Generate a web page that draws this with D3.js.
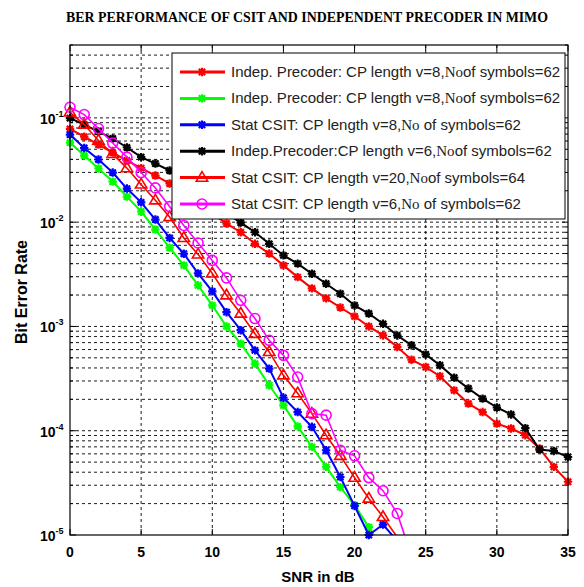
<!DOCTYPE html>
<meta charset="utf-8">
<script src="https://d3js.org/d3.v7.min.js"></script>
<style>
body { margin: 0; background: #fff; }
</style>
<div id="chart"></div>
<script>

// ---- data ----
var snr = [0,1,2,3,4,5,6,7,8,9,10,11,12,13,14,15,16,17,18,19,20,21,22,23,24,25,26,27,28,29,30,31,32,33,34,35];

// Indep. Precoder, v=8 (red, stars)
var berIndepV8 = [0.0785,0.066,0.0555,0.0465,0.039,0.033,0.028,0.0235,0.0188,0.0151,0.0121,0.0097,0.0080,0.0062,0.0050,0.00385,0.00297,0.00232,0.00186,0.00152,0.00125,0.00100,8.2e-4,6.35e-4,4.8e-4,4.08e-4,3.33e-4,2.44e-4,1.82e-4,1.51e-4,1.17e-4,1.05e-4,9.06e-5,6.76e-5,4.5e-5,3.24e-5];
// Indep. Precoder, v=8 (green, stars)
var berIndepV8g = [0.058,0.0435,0.0327,0.0245,0.0176,0.01265,0.0085,0.0057,0.00385,0.00248,0.00159,0.0010,6.84e-4,4.4e-4,2.73e-4,1.75e-4,1.1e-4,7.0e-5,4.5e-5,2.88e-5,1.93e-5,1.19e-5,7.2e-6];
// Stat CSIT, v=8 (blue, stars)
var berStatV8 = [0.0692,0.0514,0.0399,0.0299,0.021,0.0155,0.0106,0.00706,0.00498,0.00323,0.00217,0.00137,9.2e-4,5.9e-4,3.94e-4,2.07e-4,1.51e-4,1.09e-4,6.5e-5,3.6e-5,1.9e-5,1.0e-5,1.26e-5,8.75e-6];
// Indep. Precoder, v=6 (black, stars)
var berIndepV6 = [0.0995,0.0863,0.074,0.0634,0.052,0.042,0.0365,0.0313,0.0262,0.0201,0.0162,0.0121,0.0099,0.0080,0.0062,0.0048,0.0040,0.0032,0.00257,0.00206,0.00159,0.00133,0.00106,8.2e-4,6.6e-4,5.4e-4,4.24e-4,3.23e-4,2.54e-4,2.03e-4,1.67e-4,1.43e-4,1.06e-4,6.6e-5,6.4e-5,5.6e-5];
// Stat CSIT, v=20 (red, triangles)
var berStatV20 = [0.113,0.0863,0.0607,0.0452,0.033,0.023,0.0162,0.0112,0.00706,0.00491,0.00323,0.00199,0.00133,8.5e-4,5.7e-4,3.4e-4,2.29e-4,1.46e-4,9.06e-5,5.75e-5,3.55e-5,2.24e-5,1.49e-5,9.55e-6];
// Stat CSIT, v=6 (magenta, circles)
var berStatV6 = [0.1265,0.1076,0.079,0.0574,0.042,0.0299,0.0213,0.0141,0.0093,0.00632,0.0043,0.00292,0.00178,0.00119,7.36e-4,5.28e-4,3.27e-4,1.46e-4,1.41e-4,6.5e-5,5.75e-5,3.55e-5,2.66e-5,1.61e-5,6.3e-6];

var seriesValues = [berIndepV8, berIndepV8g, berStatV8, berIndepV6, berStatV20, berStatV6];
var seriesColors = ["#ff0000", "#00ff00", "#0000ff", "#000000", "#ff0000", "#ff00ff"];
var seriesMarkers = ["star", "star", "star", "star", "triangle", "circle"];
// legend text: [before "No", "No" part, after]
var legendLabels = [
  ["Indep. Precoder: CP length v=8,", "No", "of symbols=62"],
  ["Indep. Precoder: CP length v=8,", "No", "of symbols=62"],
  ["Stat CSIT: CP length v=8,", "No", " of symbols=62"],
  ["Indep.Precoder:CP length v=6,", "No", "of symbols=62"],
  ["Stat CSIT: CP length v=20,", "No", "of symbols=64"],
  ["Stat CSIT: CP length v=6,", "No", " of symbols=62"]
];
var xTicks = [0, 5, 10, 15, 20, 25, 30, 35];
var yDecades = [1e-5, 1e-4, 1e-3, 1e-2, 1e-1];
var yExponents = ["-5", "-4", "-3", "-2", "-1"];

var width = 584, height = 587;
var pLeft = 70, pRight = 568, pTop = 45, pBottom = 535;

var svg = d3.select("#chart").append("svg")
  .attr("width", width)
  .attr("height", height)
  .style("font-family", "Liberation Sans, Arial, sans-serif");

var x = d3.scaleLinear().domain([0, 35]).range([pLeft, pRight]);
var y = d3.scaleLog().domain([1e-5, 0.5]).range([pBottom, pTop]);

// title
svg.append("text")
  .attr("x", 307).attr("y", 22)
  .attr("text-anchor", "middle")
  .attr("textLength", 482).attr("lengthAdjust", "spacingAndGlyphs")
  .style("font-family", "Liberation Serif, Times New Roman, serif")
  .style("font-weight", "bold")
  .style("font-size", "14px")
  .text("BER PERFORMANCE OF CSIT AND INDEPENDENT PRECODER IN MIMO");

// grid
var grid = svg.append("g")
  .attr("stroke", "#000")
  .attr("stroke-width", 0.9)
  .attr("stroke-dasharray", "3,3");

grid.selectAll(".gx")
  .data(xTicks.filter(function(d){ return d > 0 && d < 35; }))
  .enter().append("line")
  .attr("x1", function(d){ return x(d); })
  .attr("x2", function(d){ return x(d); })
  .attr("y1", pTop).attr("y2", pBottom);

var yMinor = y.ticks().filter(function(d){ return d > 1.01e-5 && d < 0.49; });
grid.selectAll(".gy")
  .data(yMinor)
  .enter().append("line")
  .attr("x1", pLeft).attr("x2", pRight)
  .attr("y1", function(d){ return y(d); })
  .attr("y2", function(d){ return y(d); });

// ticks (inside, both sides)
var ticks = svg.append("g").attr("stroke", "#000").attr("stroke-width", 1);
y.ticks().forEach(function(d){
  var isMajor = yDecades.indexOf(d) >= 0;
  var len = isMajor ? 6 : 3;
  ticks.append("line").attr("x1", pLeft).attr("x2", pLeft + len).attr("y1", y(d)).attr("y2", y(d));
  ticks.append("line").attr("x1", pRight).attr("x2", pRight - len).attr("y1", y(d)).attr("y2", y(d));
});
xTicks.forEach(function(d){
  ticks.append("line").attr("x1", x(d)).attr("x2", x(d)).attr("y1", pBottom).attr("y2", pBottom - 6);
  ticks.append("line").attr("x1", x(d)).attr("x2", x(d)).attr("y1", pTop).attr("y2", pTop + 6);
});

// curves
svg.append("clipPath").attr("id", "plotclip")
  .append("rect").attr("x", pLeft).attr("y", pTop)
  .attr("width", pRight - pLeft).attr("height", pBottom - pTop);

var line = d3.line()
  .x(function(d){ return x(d[0]); })
  .y(function(d){ return y(d[1]); });

function drawMarker(g, type, color, cx, cy) {
  if (type === "star") {
    var r = 4.2;
    var p = "M" + (cx - r) + "," + cy + "H" + (cx + r) +
            "M" + cx + "," + (cy - r) + "V" + (cy + r) +
            "M" + (cx - r * 0.75) + "," + (cy - r * 0.75) + "L" + (cx + r * 0.75) + "," + (cy + r * 0.75) +
            "M" + (cx - r * 0.75) + "," + (cy + r * 0.75) + "L" + (cx + r * 0.75) + "," + (cy - r * 0.75);
    g.append("path").attr("d", p).attr("stroke", color).attr("stroke-width", 2.2).attr("fill", "none");
  } else if (type === "triangle") {
    var s = 6;
    g.append("path")
      .attr("d", "M" + cx + "," + (cy - s) + "L" + (cx + s * 0.95) + "," + (cy + s * 0.6) + "L" + (cx - s * 0.95) + "," + (cy + s * 0.6) + "Z")
      .attr("stroke", color).attr("stroke-width", 1.6).attr("fill", "none");
  } else {
    g.append("circle").attr("cx", cx).attr("cy", cy).attr("r", 5)
      .attr("stroke", color).attr("stroke-width", 1.6).attr("fill", "none");
  }
}

seriesValues.forEach(function(vals, i){
  var pts = vals.map(function(v, j){ return [snr[j], v]; });
  var g = svg.append("g");
  g.append("path")
    .datum(pts)
    .attr("clip-path", "url(#plotclip)")
    .attr("fill", "none")
    .attr("stroke", seriesColors[i])
    .attr("stroke-width", seriesMarkers[i] === "star" ? 2 : 1.6)
    .attr("d", line);
  pts.filter(function(p){ return p[1] >= 0.98e-5; }).forEach(function(p){
    drawMarker(g, seriesMarkers[i], seriesColors[i], x(p[0]), y(p[1]));
  });
});

// frame
svg.append("rect")
  .attr("x", pLeft).attr("y", pTop)
  .attr("width", pRight - pLeft).attr("height", pBottom - pTop)
  .attr("fill", "none").attr("stroke", "#000").attr("stroke-width", 1.2);

// x tick labels
svg.append("g").selectAll("text")
  .data(xTicks)
  .enter().append("text")
  .attr("x", function(d){ return x(d); })
  .attr("y", 557)
  .attr("text-anchor", "middle")
  .style("font-weight", "bold")
  .style("font-size", "14px")
  .text(function(d){ return d; });

// y tick labels 10^n
var yl = svg.append("g");
yDecades.forEach(function(d, i){
  var t = yl.append("text")
    .attr("x", 40).attr("y", y(d) + 6)
    .style("font-weight", "bold")
    .style("font-size", "14px");
  t.append("tspan").text("10");
  t.append("tspan").attr("dy", -7).style("font-size", "9px").text(yExponents[i]);
});

// axis titles
svg.append("text")
  .attr("x", 318).attr("y", 582)
  .attr("text-anchor", "middle")
  .style("font-weight", "bold")
  .style("font-size", "15px")
  .text("SNR in dB");

svg.append("text")
  .attr("transform", "translate(27,292) rotate(-90)")
  .attr("text-anchor", "middle")
  .style("font-weight", "bold")
  .style("font-size", "16px")
  .text("Bit Error Rate");

// legend
var lg = svg.append("g");
lg.append("rect")
  .attr("x", 172).attr("y", 53)
  .attr("width", 393).attr("height", 166)
  .attr("fill", "#fff").attr("stroke", "#000").attr("stroke-width", 1);

var rowY = d3.scaleLinear().domain([0, 5]).range([72, 204]);
legendLabels.forEach(function(lab, i){
  var ry = rowY(i);
  lg.append("line")
    .attr("x1", 180).attr("x2", 225)
    .attr("y1", ry).attr("y2", ry)
    .attr("stroke", seriesColors[i]).attr("stroke-width", 3);
  drawMarker(lg, seriesMarkers[i], seriesColors[i], 202, ry);
  var t = lg.append("text")
    .attr("x", 231).attr("y", ry + 5)
    .style("font-size", "15px")
    .style("fill", "#222");
  t.append("tspan").text(lab[0]);
  t.append("tspan").style("font-family", "Liberation Serif, Times New Roman, serif").text(lab[1]);
  t.append("tspan").text(lab[2]);
});

</script>
